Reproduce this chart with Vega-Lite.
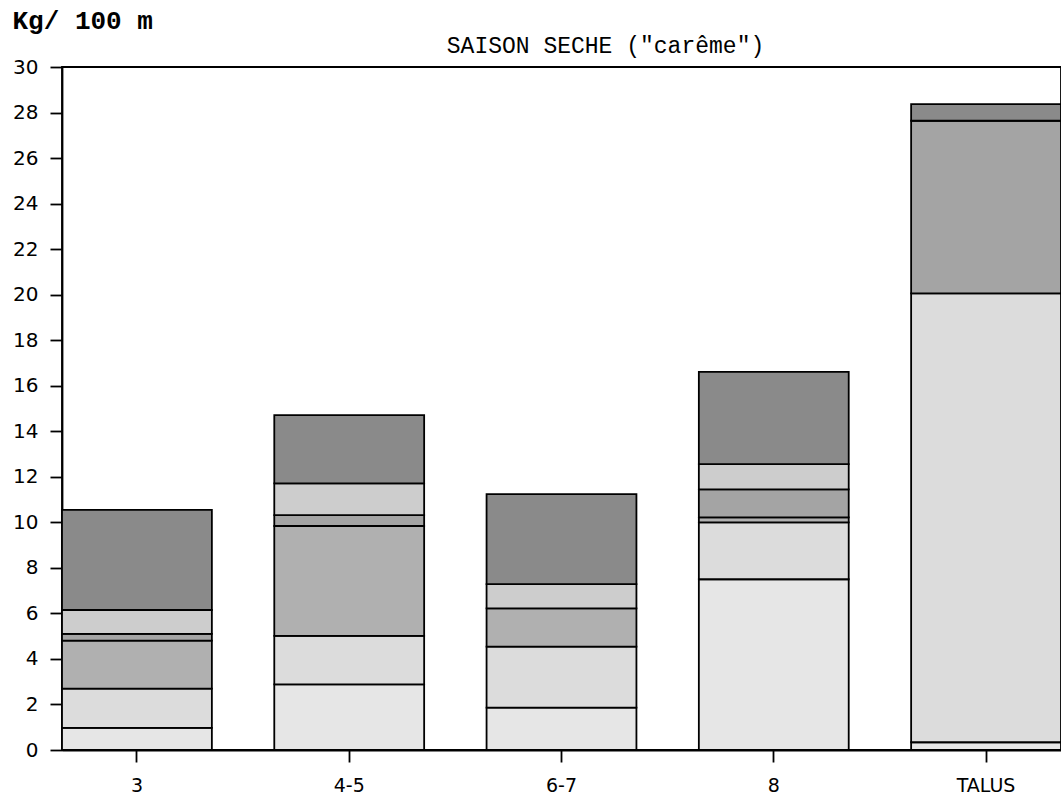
{
  "$schema": "https://vega.github.io/schema/vega-lite/v6.json",
  "width": 999,
  "height": 683,
  "autosize": {"type": "none"},
  "padding": {"left": 62, "top": 67, "right": 0, "bottom": 50},
  "background": "white",
  "title": {
    "text": "SAISON SECHE (\"carême\")",
    "font": "Liberation Mono",
    "fontSize": 23,
    "fontWeight": "normal",
    "color": "black",
    "anchor": "middle",
    "frame": "group",
    "baseline": "middle",
    "dx": 44,
    "dy": 70,
    "offset": 8
  },
  "config": {
    "view": {"stroke": "black", "strokeWidth": 1.8},
    "axis": {
      "domainColor": "black",
      "domainWidth": 1.8,
      "tickColor": "black",
      "tickWidth": 1.8,
      "tickSize": 12,
      "grid": false,
      "labelColor": "black",
      "labelFont": "DejaVu Sans"
    }
  },
  "data": {
    "values": [
      {"profondeur": "3", "classe": "c1", "kg": 0.97},
      {"profondeur": "3", "classe": "c2", "kg": 1.73},
      {"profondeur": "3", "classe": "c3", "kg": 2.10},
      {"profondeur": "3", "classe": "c4", "kg": 0.30},
      {"profondeur": "3", "classe": "c5", "kg": 1.05},
      {"profondeur": "3", "classe": "c6", "kg": 4.40},
      {"profondeur": "4-5", "classe": "c1", "kg": 2.88},
      {"profondeur": "4-5", "classe": "c2", "kg": 2.13},
      {"profondeur": "4-5", "classe": "c3", "kg": 4.83},
      {"profondeur": "4-5", "classe": "c4", "kg": 0.48},
      {"profondeur": "4-5", "classe": "c5", "kg": 1.39},
      {"profondeur": "4-5", "classe": "c6", "kg": 3.00},
      {"profondeur": "6-7", "classe": "c1", "kg": 1.86},
      {"profondeur": "6-7", "classe": "c2", "kg": 2.68},
      {"profondeur": "6-7", "classe": "c3", "kg": 1.68},
      {"profondeur": "6-7", "classe": "c5", "kg": 1.07},
      {"profondeur": "6-7", "classe": "c6", "kg": 3.95},
      {"profondeur": "8", "classe": "c1", "kg": 7.50},
      {"profondeur": "8", "classe": "c2", "kg": 2.50},
      {"profondeur": "8", "classe": "c3", "kg": 0.22},
      {"profondeur": "8", "classe": "c4", "kg": 1.23},
      {"profondeur": "8", "classe": "c5", "kg": 1.11},
      {"profondeur": "8", "classe": "c6", "kg": 4.05},
      {"profondeur": "TALUS", "classe": "c1", "kg": 0.34},
      {"profondeur": "TALUS", "classe": "c2", "kg": 19.72},
      {"profondeur": "TALUS", "classe": "c4", "kg": 7.58},
      {"profondeur": "TALUS", "classe": "c6", "kg": 0.73}
    ]
  },
  "mark": {"type": "bar", "stroke": "black", "strokeWidth": 1.8},
  "encoding": {
    "x": {
      "field": "profondeur",
      "type": "nominal",
      "sort": ["3", "4-5", "6-7", "8", "TALUS"],
      "scale": {"paddingInner": 0.294, "paddingOuter": 0},
      "axis": {
        "title": null,
        "labelAngle": 0,
        "labelFontSize": 19,
        "labelPadding": 14
      }
    },
    "y": {
      "field": "kg",
      "type": "quantitative",
      "stack": "zero",
      "scale": {"domain": [0, 30], "nice": false},
      "axis": {
        "values": [0, 2, 4, 6, 8, 10, 12, 14, 16, 18, 20, 22, 24, 26, 28, 30],
        "labelFontSize": 20,
        "labelPadding": 12,
        "title": "Kg/ 100 m",
        "titleFont": "Liberation Mono",
        "titleFontSize": 26,
        "titleFontWeight": "bold",
        "titleColor": "black",
        "titleAngle": 0,
        "titleAlign": "left",
        "titleBaseline": "middle",
        "titleX": -50,
        "titleY": -47
      }
    },
    "fill": {
      "field": "classe",
      "type": "nominal",
      "scale": {
        "domain": ["c1", "c2", "c3", "c4", "c5", "c6"],
        "range": ["#e6e6e6", "#dcdcdc", "#b0b0b0", "#a4a4a4", "#cdcdcd", "#8a8a8a"]
      },
      "legend": null
    },
    "order": {"field": "classe", "type": "nominal", "sort": "ascending"}
  }
}
